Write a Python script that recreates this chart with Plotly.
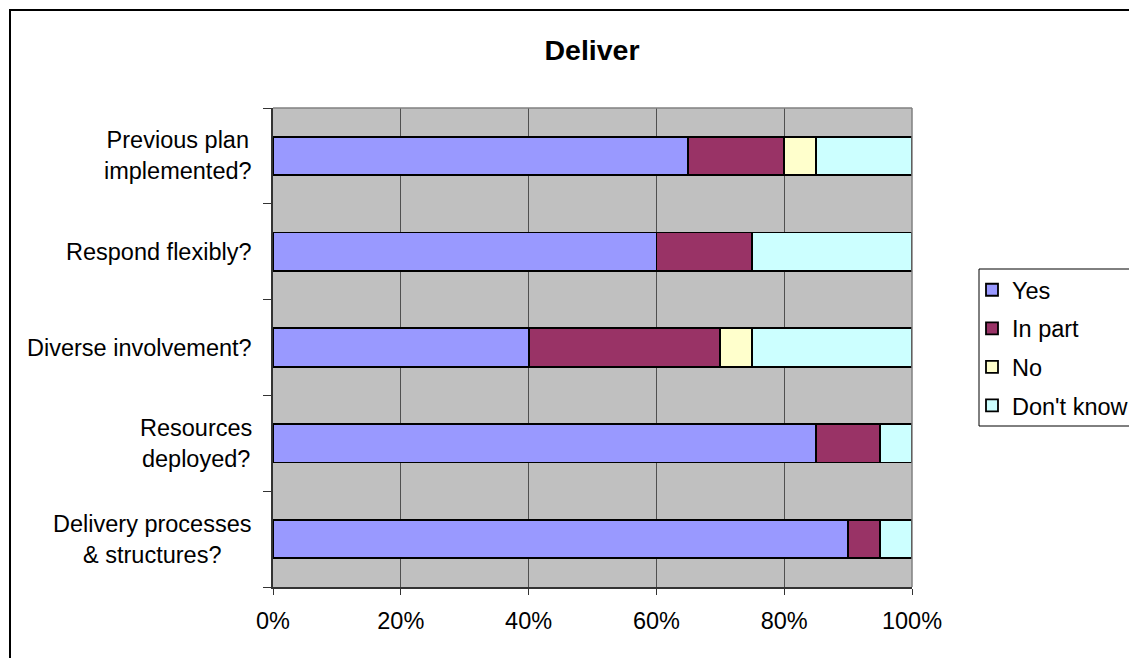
import plotly.graph_objects as go

categories = ["Previous plan<br>implemented?", "Respond flexibly?", "Diverse involvement?",
              "Resources<br>deployed?", "Delivery processes<br>& structures?"]
series_names = ["Yes", "In part", "No", "Don't know"]
yes = [65, 60, 40, 85, 90]
in_part = [15, 15, 30, 10, 5]
no = [5, 0, 5, 0, 0]
dont_know = [15, 25, 25, 5, 5]
colors = ["#9999FF", "#993366", "#FFFFCC", "#CCFFFF"]
x_ticks = [0, 20, 40, 60, 80, 100]
x_tick_labels = ["0%", "20%", "40%", "60%", "80%", "100%"]

W, H = 1129, 658
L, R, T, B = 273, 912, 108, 587
FONT = "Liberation Sans, Arial, sans-serif"
FS = 23.5

fig = go.Figure()
for name, vals, col in zip(series_names, [yes, in_part, no, dont_know], colors):
    fig.add_trace(go.Bar(
        y=categories, x=vals, name=name, orientation="h",
        marker=dict(color=col, line=dict(color="black", width=1.8)),
        width=0.4, legendgroup=name,
    ))

def px_x(p):
    return (p - L) / (R - L)

def px_y(p):
    return (B - p) / (B - T)

fig.update_layout(
    width=W, height=H,
    margin=dict(l=L, r=W - R, t=T, b=H - B, pad=0, autoexpand=False),
    barmode="stack",
    paper_bgcolor="white",
    plot_bgcolor="#C0C0C0",
    font=dict(family=FONT, size=FS, color="black"),
    title=dict(text="<b>Deliver</b>", x=592 / W, xanchor="center",
               y=1 - 50 / H, yanchor="middle", font=dict(size=28.5)),
    showlegend=True,
    legend=dict(xref="container", yref="container",
                x=972 / W, xanchor="left", y=1 - 268 / H, yanchor="top",
                borderwidth=0, bgcolor="rgba(0,0,0,0)",
                traceorder="grouped", tracegroupgap=5,
                font=dict(size=FS)),
    xaxis=dict(range=[0, 100], tickvals=x_ticks, ticktext=x_tick_labels,
               showgrid=True, gridcolor="#505050", gridwidth=1,
               ticks="outside", ticklen=6, tickcolor="#333333",
               showline=True, linecolor="#333333", linewidth=2,
               zeroline=False, fixedrange=True, ticklabelstandoff=6),
    yaxis=dict(categoryorder="array", categoryarray=categories[::-1],
               type="category", showgrid=False, showticklabels=False,
               ticks="outside", tickson="boundaries", ticklen=8, tickcolor="#333333",
               showline=True, linecolor="#333333", linewidth=2,
               fixedrange=True),
)

# category labels (centered multi-line, right edge near the axis)
for cat in categories:
    fig.add_annotation(text=cat, xref="paper", yref="y", x=px_x(254), y=cat,
                       xanchor="right", yanchor="middle", align="center",
                       showarrow=False, font=dict(family=FONT, size=FS, color="black"))

# plot-area top/right edges
fig.add_shape(type="line", xref="paper", yref="paper", x0=0, x1=1, y0=1, y1=1,
              line=dict(color="#808080", width=1.5))
fig.add_shape(type="line", xref="paper", yref="paper", x0=1, x1=1, y0=0, y1=1,
              line=dict(color="#808080", width=1.5))
# legend box
fig.add_shape(type="rect", xref="paper", yref="paper",
              x0=px_x(979), x1=px_x(1150), y0=px_y(269), y1=px_y(426),
              line=dict(color="black", width=1), fillcolor="white", layer="below")
# chart outer border
fig.add_shape(type="rect", xref="paper", yref="paper",
              x0=px_x(10), x1=px_x(1145), y0=px_y(10), y1=px_y(680),
              line=dict(color="black", width=2), layer="above")

fig.write_html("out.html")
